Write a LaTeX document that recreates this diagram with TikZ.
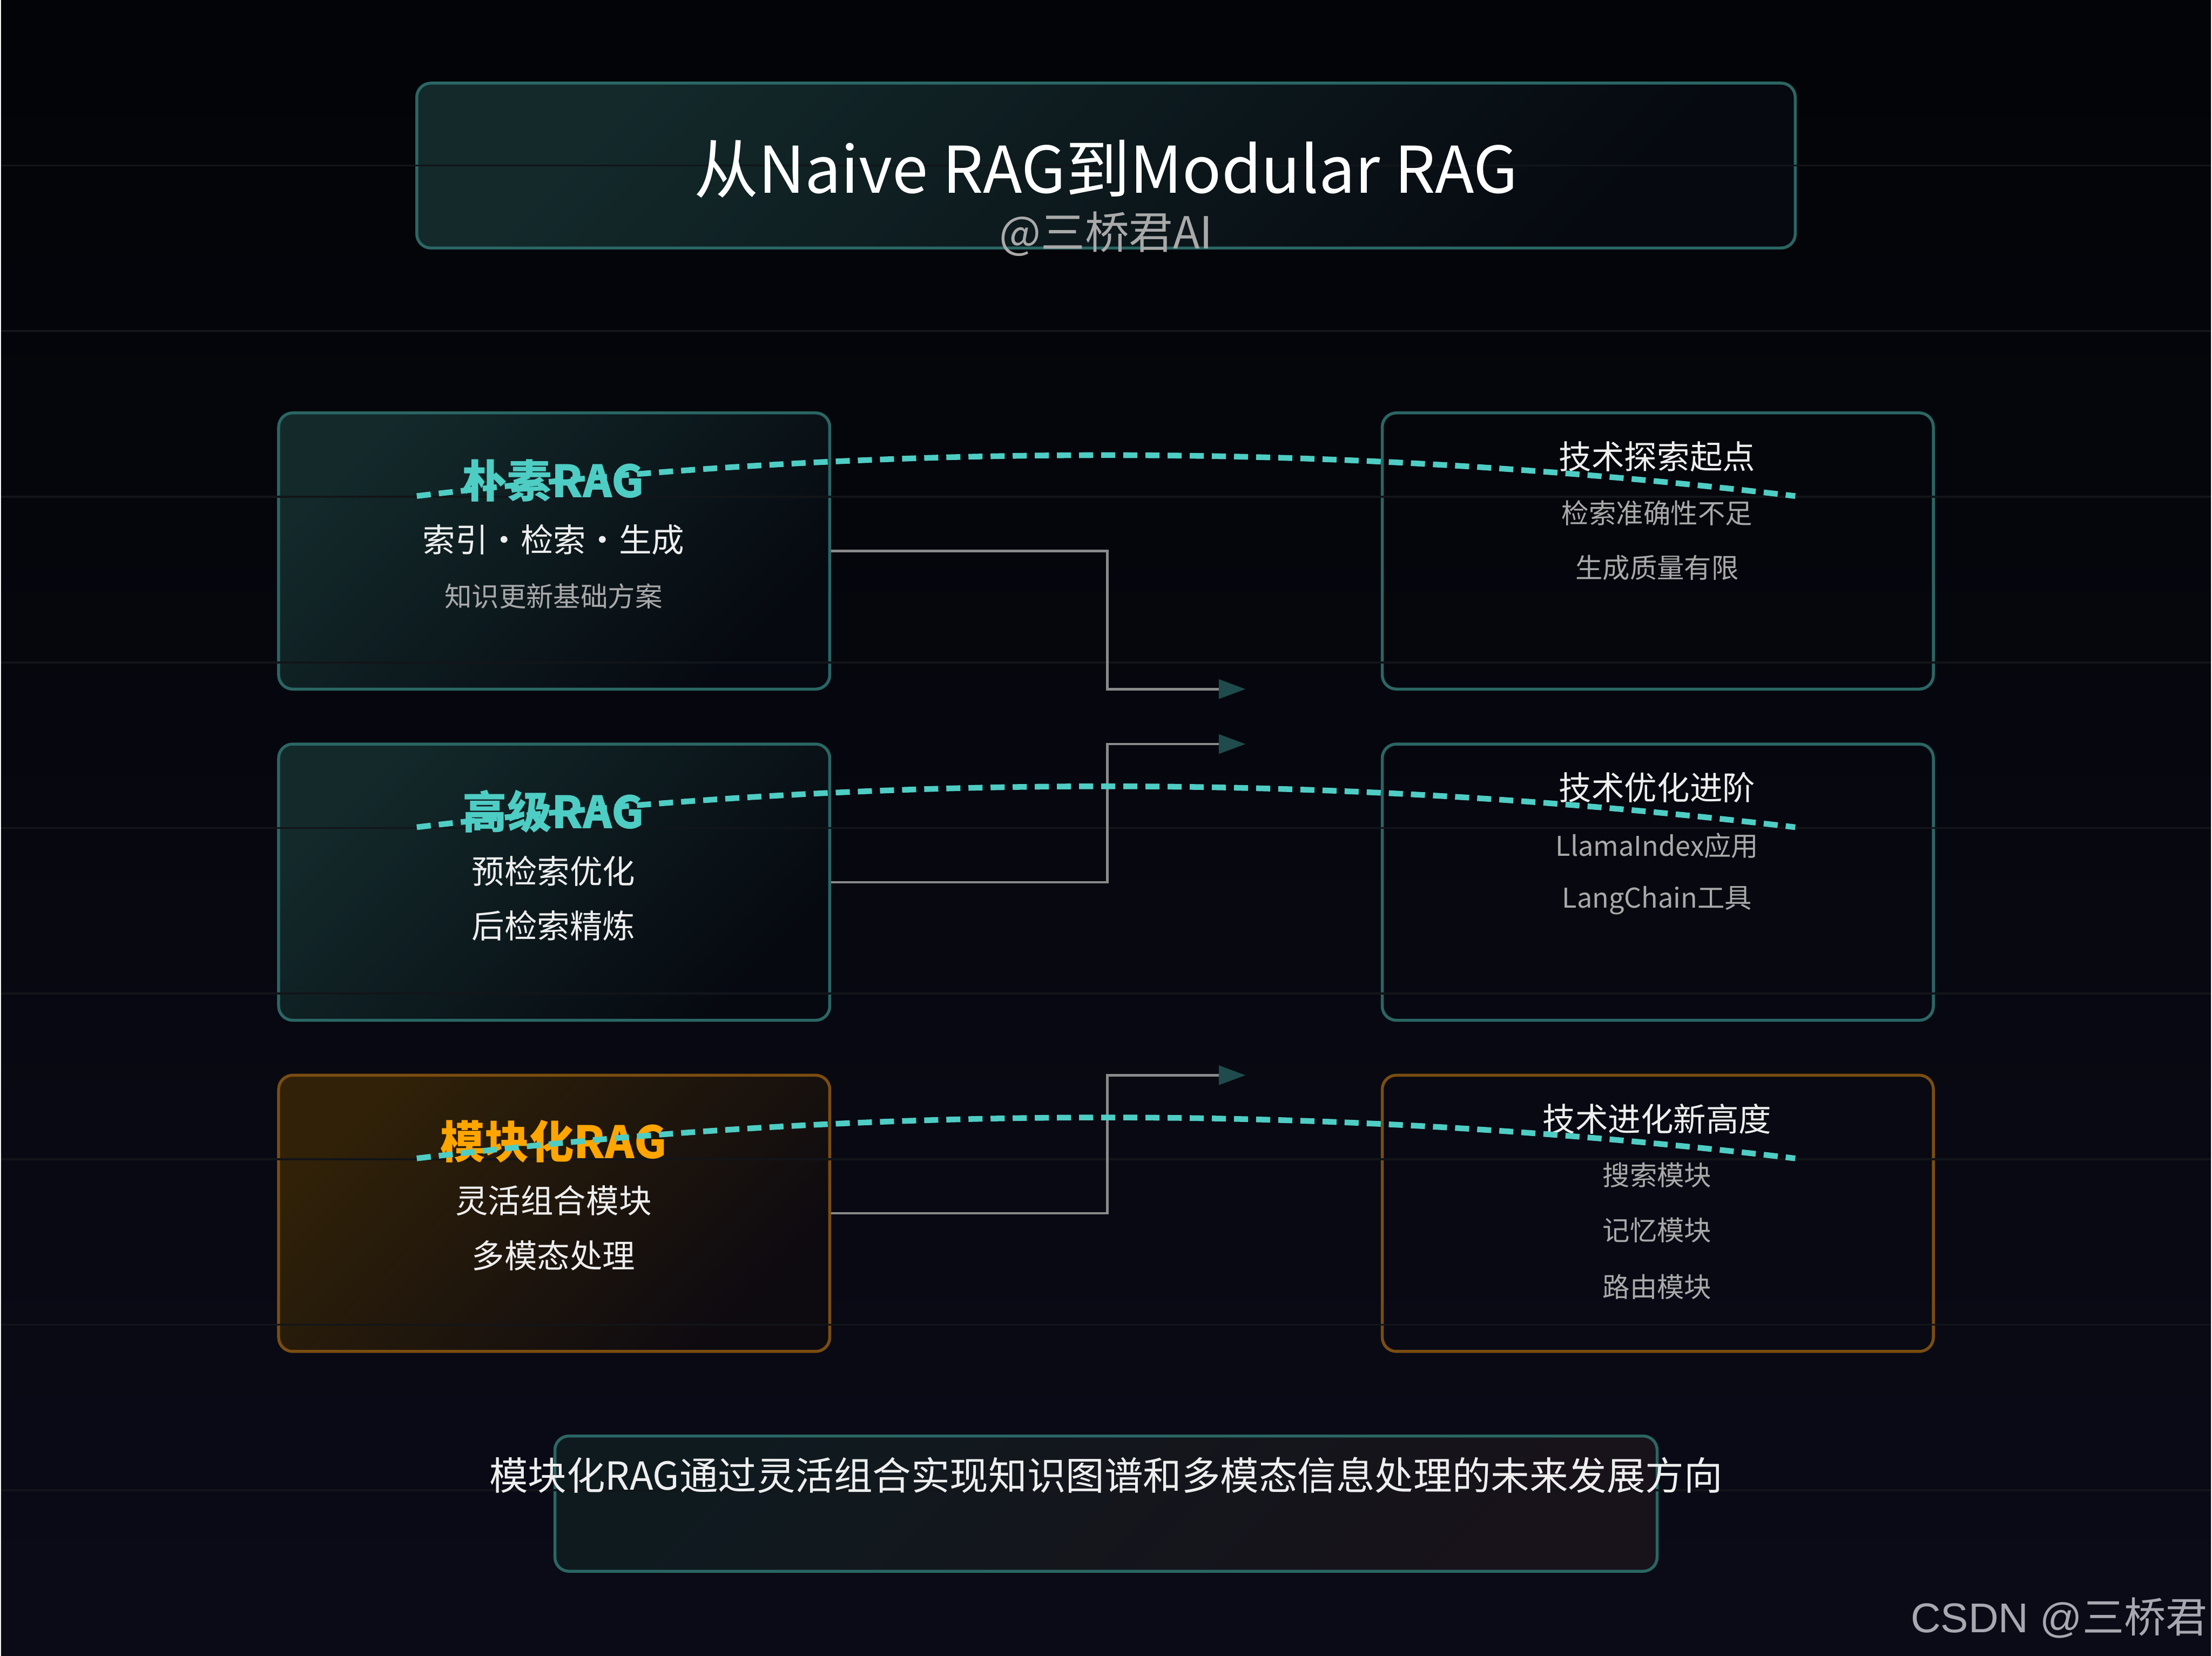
\documentclass[tikz,border=0pt]{standalone}
\usepackage{fontspec}
\setmainfont{Noto Sans CJK SC}
\newfontfamily\wmfont{Liberation Sans}
\usetikzlibrary{positioning,arrows.meta,calc}

\definecolor{bgtop}{HTML}{030407}
\definecolor{bgbot}{HTML}{0A0B17}
\definecolor{gridc}{HTML}{121519}
\definecolor{tealline}{HTML}{2A6664}
\definecolor{amberline}{HTML}{7A4D10}
\definecolor{tealfill}{HTML}{13292A}
\definecolor{darkfill}{HTML}{060910}
\definecolor{amberfill}{HTML}{302108}
\definecolor{amberdark}{HTML}{0D0A10}
\definecolor{flowteal}{HTML}{4ECDC4}
\definecolor{amber}{HTML}{FFA500}
\definecolor{whitetext}{HTML}{EEEEEE}
\definecolor{graytext}{HTML}{A9A9A9}
\definecolor{linkgray}{HTML}{8A8A8A}
\definecolor{arrowfill}{HTML}{1F4B4C}
\definecolor{wmgray}{HTML}{A8A8B0}
\definecolor{noteleft}{HTML}{0F1A1F}
\definecolor{noteright}{HTML}{18121A}

\begin{document}
\begin{tikzpicture}[every node/.style={align=center, inner sep=0pt},
  box/.style={rounded corners=0.1cm, line width=0.6pt, minimum width=3.91cm, minimum height=1.96cm},
  tealbox/.style={box, draw=tealline, top color=tealfill, bottom color=darkfill, shading angle=45},
  amberbox/.style={box, draw=amberline, top color=amberfill, bottom color=amberdark, shading angle=45},
  goalbox/.style={box, draw=tealline},
  goalamber/.style={box, draw=amberline},
  stagename/.style={text=flowteal, font=\fontsize{9}{11}\selectfont\bfseries},
  mainline/.style={text=whitetext, font=\fontsize{6.6}{8}\selectfont},
  subline/.style={text=graytext, font=\fontsize{5.5}{7}\selectfont},
  flow/.style={draw=flowteal, line width=1.15pt, dash pattern=on 0.1cm off 0.057cm},
  link/.style={draw=linkgray, line width=0.5pt, -{Triangle[length=0.19cm, width=0.136cm, color=arrowfill, fill=arrowfill]}}]
  \fill[top color=bgtop, bottom color=bgbot] (0,0) rectangle (15.68,-11.75);
  \node[draw=tealline, line width=0.6pt, rounded corners=0.1cm, minimum width=9.78cm, minimum height=1.17cm,
    top color=tealfill, bottom color=darkfill, shading angle=45] (head) at (7.84,-1.175) {};
  \node[tealbox] (naive) at (3.925,-3.91) {};
  \node[tealbox] (advanced) at (3.925,-6.26) {};
  \node[amberbox] (modular) at (3.925,-8.61) {};
  \node[goalbox] (origin) at (11.755,-3.91) {};
  \node[goalbox] (advance) at (11.755,-6.26) {};
  \node[goalamber] (summit) at (11.755,-8.61) {};
  \node[draw=tealline, line width=0.6pt, rounded corners=0.1cm, minimum width=7.82cm, minimum height=0.96cm,
    top color=noteleft, bottom color=noteright, shading angle=45] (note) at (7.84,-10.67) {};
  \foreach \k in {1,...,9}
    \draw[gridc, line width=0.4pt] (0,-1.175*\k) -- (15.68,-1.175*\k);
  \node[text=white, font=\fontsize{13}{15}\selectfont] (maintitle) at (7.84,-1.20) {从Naive RAG到Modular RAG};
  \node[text=graytext, font=\fontsize{8.9}{10}\selectfont] (byline) at (7.84,-1.66) {@三桥君AI};
  \node[stagename] (naivename) at (3.92,-3.41) {朴素RAG};
  \node[mainline] (naiveops) at (3.92,-3.83) {索引・检索・生成};
  \node[subline] (naivenote) at (3.92,-4.23) {知识更新基础方案};
  \node[stagename] (advname) at (3.92,-5.76) {高级RAG};
  \node[mainline] (advpre) at (3.92,-6.18) {预检索优化};
  \node[mainline] (advpost) at (3.92,-6.57) {后检索精炼};
  \node[stagename, text=amber] (modname) at (3.92,-8.10) {模块化RAG};
  \node[mainline] (modcombo) at (3.92,-8.52) {灵活组合模块};
  \node[mainline] (modmulti) at (3.92,-8.91) {多模态处理};
  \node[mainline] (origintitle) at (11.75,-3.24) {技术探索起点};
  \node[subline] (originone) at (11.75,-3.64) {检索准确性不足};
  \node[subline] (origintwo) at (11.75,-4.03) {生成质量有限};
  \node[mainline] (advancetitle) at (11.75,-5.59) {技术优化进阶};
  \node[subline] (advanceone) at (11.75,-6.00) {LlamaIndex应用};
  \node[subline] (advancetwo) at (11.75,-6.39) {LangChain工具};
  \node[mainline] (summittitle) at (11.75,-7.94) {技术进化新高度};
  \node[subline] (summitone) at (11.75,-8.34) {搜索模块};
  \node[subline] (summittwo) at (11.75,-8.73) {记忆模块};
  \node[subline] (summitthree) at (11.75,-9.13) {路由模块};
  \node[text=whitetext, font=\fontsize{7.8}{9}\selectfont] (notetext) at (7.84,-10.47)
    {模块化RAG通过灵活组合实现知识图谱和多模态信息处理的未来发展方向};
  \node[anchor=east, text=wmgray, font=\fontsize{8.4}{10}\selectfont] (mark) at (15.66,-11.48) {{\wmfont CSDN @}三桥君};
  \coordinate (tipone) at (8.83,-4.89);
  \coordinate (tiptwo) at (8.83,-5.28);
  \coordinate (tipthree) at (8.83,-7.63);
  \draw[link] (naive.east) -- ++(1.96,0) |- (tipone);
  \draw[link] (advanced.east) -- ++(1.96,0) |- (tiptwo);
  \draw[link] (modular.east) -- ++(1.96,0) |- (tipthree);
  \foreach \r/\y in {one/3.52,two/5.87,three/8.22} {
    \coordinate (from\r) at (2.95,-\y);
    \coordinate (to\r) at (12.73,-\y);
    \draw[flow] (from\r) .. controls ($(from\r)+(3.26,0.387)$) and ($(to\r)+(-3.26,0.387)$) .. (to\r);
  }
\end{tikzpicture}
\end{document}
